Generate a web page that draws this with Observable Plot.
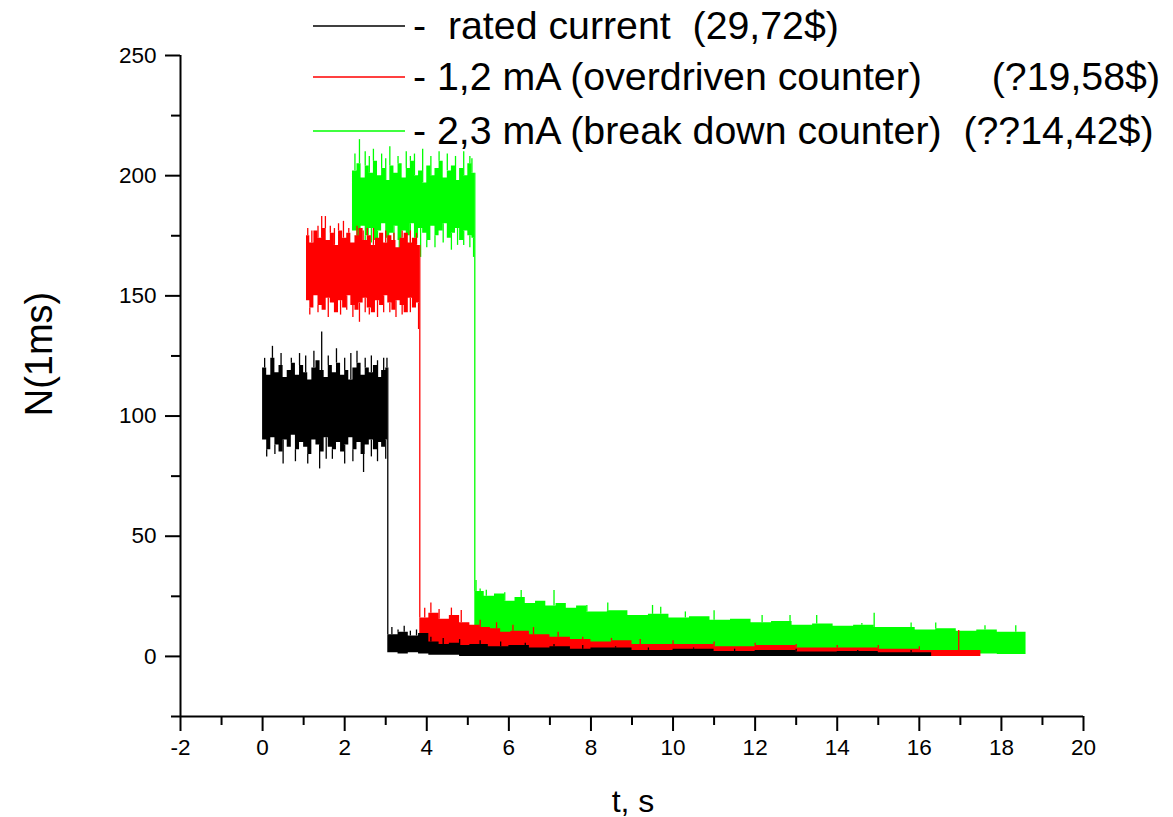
<!DOCTYPE html>
<html>
<head>
<meta charset="utf-8">
<script src="https://cdn.jsdelivr.net/npm/d3@7"></script>
<script src="https://cdn.jsdelivr.net/npm/@observablehq/plot@0.6"></script>
<style>
  html, body { margin: 0; padding: 0; background: #fff; }
  #chart { width: 1173px; height: 817px; }
</style>
</head>
<body>
<div id="chart"></div>
<script>
// ---- tick values ----
const xMajor = [-2, 0, 2, 4, 6, 8, 10, 12, 14, 16, 18, 20];
const xMinor = [-1, 1, 3, 5, 7, 9, 11, 13, 15, 17, 19];
const yMajor = [0, 50, 100, 150, 200, 250];
const yMinor = [-25, 25, 75, 125, 175, 225];

// ---- texts ----
const xTitle = "t, s";
const yTitle = "N(1ms)";
const legendLabels = [
  ["-  rated current  (29,72$)", ""],
  ["- 1,2 mA (overdriven counter)", "(?19,58$)"],
  ["- 2,3 mA (break down counter)  (??14,42$)", ""]
];
const seriesColors = ["#000000", "#ff0000", "#00ff00"];

// ---- black series (rated current): low/high envelope of the noisy trace ----
const blackT  = [0, 0.1, 0.2, 0.3, 0.4, 0.5, 0.6, 0.7, 0.8, 0.9, 1.0, 1.1, 1.2, 1.3, 1.4, 1.5, 1.6, 1.7, 1.8, 1.9, 2.0, 2.1, 2.2, 2.3, 2.4, 2.5, 2.6, 2.7, 2.8, 2.9, 3.0,
  3.05, 3.3, 3.55, 3.8, 4.05, 4.3, 4.55, 4.8, 5.05, 5.5, 6, 6.5, 7, 7.5, 8, 9, 10, 11, 12, 13, 14, 15, 16, 16.3];
const blackLo = [90, 86, 91, 88, 85, 90, 87, 92, 86, 89, 87, 84, 90, 88, 85, 91, 87, 86, 89, 85, 88, 91, 86, 89, 84, 88, 90, 86, 89, 87, 90,
  1.5, 1, 1.5, 1, 0.5, 0.5, 0.5, 0, 0, 0, 0, 0, 0, 0, 0, 0, 0, 0, 0, 0, 0, 0, 0, 0];
const blackHi = [120, 117, 124, 118, 121, 116, 119, 122, 117, 121, 118, 115, 120, 123, 119, 116, 121, 118, 122, 117, 119, 115, 120, 122, 117, 120, 118, 121, 116, 119, 120,
  9, 10, 8.5, 9.5, 6, 5, 5.5, 4.5, 5, 4, 4.5, 3.5, 4, 3, 3.5, 2.5, 3, 2, 2.5, 1.8, 2, 1.5, 1.5, 1.5];
const blackSpikeT = [0.05, 0.24, 0.45, 0.7, 0.9, 1.05, 1.25, 1.44, 1.6, 1.8, 2.0, 2.15, 2.3, 2.5, 2.65, 2.8, 2.95, 3.03,
  0.1, 0.3, 0.5, 0.8, 1.1, 1.39, 1.55, 1.7, 2.0, 2.2, 2.46, 2.65, 2.8, 3.0,
  3.15, 3.3, 3.45, 3.6, 3.75, 4.1, 4.4, 4.8, 5.3, 5.8, 6.4, 7.1, 7.8, 8.6, 9.4, 10.5, 11.5, 13, 14.5, 15.8];
const blackSpikeV = [124, 129, 126, 124, 126, 125, 127, 135, 125, 128, 124, 126, 127, 124, 125, 123, 124, 124,
  83, 84, 80, 81, 80, 78, 82, 82, 80, 81, 76.5, 83, 81, 82,
  12, 11, 12.5, 10.5, 11, 8, 7.5, 7, 6.5, 6, 5.5, 5, 4.5, 4, 3.5, 3.5, 3, 3, 2.5, 2.5];

// ---- red series (1,2 mA) ----
const redT  = [1.07, 1.15, 1.25, 1.35, 1.45, 1.55, 1.65, 1.75, 1.85, 1.95, 2.05, 2.15, 2.25, 2.35, 2.45, 2.55, 2.65, 2.75, 2.85, 2.95, 3.05, 3.15, 3.25, 3.35, 3.45, 3.55, 3.65, 3.75,
  3.83, 4.05, 4.3, 4.55, 4.8, 5.05, 5.3, 5.55, 5.8, 6.05, 6.5, 7, 7.5, 8, 8.5, 9, 10, 11, 12, 13, 14, 15, 16, 17, 17.5];
const redLo = [148, 145, 150, 146, 144, 149, 147, 143, 148, 145, 150, 146, 144, 147, 149, 145, 143, 148, 146, 150, 147, 144, 148, 146, 143, 149, 145, 147,
  5, 4, 3.5, 3, 2.5, 2.5, 2, 2, 1.5, 1.5, 1, 1, 0.5, 0.5, 0.5, 0, 0, 0, 0, 0, 0, 0, 0, 0, 0];
const redHi = [175, 172, 177, 174, 178, 173, 176, 171, 177, 174, 176, 172, 175, 178, 173, 175, 171, 174, 176, 172, 175, 173, 170, 174, 176, 172, 174, 171,
  16, 18, 15.5, 17, 14, 13, 12, 11.5, 10, 10.5, 9, 8, 7, 6, 6.5, 5, 5, 4, 4.5, 3.5, 3.5, 3, 2.5, 2.5, 2.5];
const redSpikeT = [1.1, 1.2, 1.35, 1.44, 1.53, 1.65, 1.75, 1.85, 1.97, 2.1, 2.3, 2.45, 2.55, 2.7, 2.85, 3.0, 3.2, 3.4, 3.6, 3.75,
  1.15, 1.35, 1.5, 1.6, 1.75, 1.9, 2.05, 2.2, 2.36, 2.5, 2.6, 2.8, 2.95, 3.1, 3.25, 3.4, 3.6, 3.8,
  3.95, 4.1, 4.3, 4.6, 4.84, 5.3, 5.7, 6.1, 6.6, 7.2, 7.8, 8.5, 9.2, 10, 11, 12, 13, 14, 15, 16, 16.96];
const redSpikeV = [178, 177, 179, 183, 183, 179, 178, 180, 181, 178, 179, 177, 178, 178, 176, 177, 176, 177, 177, 176,
  142, 143, 144, 141, 143, 142, 144, 141, 139, 143, 142, 141, 143, 143, 141, 142, 143, 136,
  20, 22.2, 19.5, 20.1, 19.1, 15, 14, 13, 12, 10, 8, 7.5, 7, 6.5, 6, 5.5, 5, 4.5, 4.5, 4, 10.8];

// ---- green series (2,3 mA) ----
const greenT  = [2.19, 2.3, 2.4, 2.5, 2.6, 2.7, 2.8, 2.9, 3.0, 3.1, 3.2, 3.3, 3.4, 3.5, 3.6, 3.7, 3.8, 3.9, 4.0, 4.1, 4.2, 4.3, 4.4, 4.5, 4.6, 4.7, 4.8, 4.9, 5.0, 5.1,
  5.17, 5.4, 5.65, 5.9, 6.15, 6.4, 6.65, 6.9, 7.15, 7.4, 7.65, 7.9, 8.4, 8.9, 9.4, 9.9, 10.4, 10.9, 11.4, 11.9, 12.4, 12.9, 13.4, 13.9, 14.4, 14.9, 15.4, 15.9, 16.4, 16.9, 17.4, 17.9, 18.4, 18.6];
const greenLo = [177, 174, 179, 175, 178, 173, 177, 180, 174, 176, 179, 173, 177, 175, 180, 174, 178, 176, 173, 179, 175, 177, 180, 174, 176, 178, 173, 177, 175, 174,
  11, 10, 9, 8.5, 8, 7.5, 7, 6.5, 6, 6, 5.5, 5, 4.5, 4, 4, 3.5, 3, 3, 2.5, 2.5, 2, 2, 2, 1.5, 1.5, 1.5, 1.5, 1, 1, 1, 1, 0.8, 0.8, 0.8];
const greenHi = [202, 205, 199, 204, 201, 206, 200, 203, 198, 204, 201, 205, 199, 203, 206, 200, 202, 197, 204, 200, 203, 206, 199, 202, 204, 198, 203, 200, 205, 201,
  27, 25, 26, 23, 24.5, 22, 23, 21, 22, 20, 21, 18.5, 19, 17, 17.5, 16, 16.5, 15, 15.5, 14, 14.5, 13, 13.5, 12.5, 13, 12, 12, 11, 11.5, 10.5, 11, 10, 10, 10];
const greenSpikeT = [2.25, 2.36, 2.5, 2.6, 2.7, 2.9, 3.0, 3.1, 3.3, 3.5, 3.6, 3.7, 3.9, 4.1, 4.3, 4.5, 4.7, 4.9, 5.05, 5.1,
  2.3, 2.5, 2.65, 2.8, 3.05, 3.2, 3.33, 3.5, 3.6, 3.85, 4.0, 4.2, 4.4, 4.6, 4.75, 4.9, 5.05, 5.14,
  5.2, 5.3, 5.45, 5.9, 6.3, 7.1, 7.9, 8.41, 9.5, 9.7, 10.3, 11.0, 12.17, 12.85, 13.5, 14.6, 14.9, 15.8, 16.4, 17.6, 18.35];
const greenSpikeV = [209, 215, 210, 208, 211, 209, 207, 212, 208, 210, 208, 209, 211, 208, 210, 209, 208, 210, 208, 207,
  171, 169, 172, 172, 170, 172, 161, 171, 171, 166, 170, 170, 172, 169, 171, 171, 170, 166,
  31.6, 28, 27.5, 26.5, 27.4, 27.4, 21.2, 22.2, 21.2, 20.5, 18.5, 19, 17, 17, 17, 13.7, 18, 13.9, 13.9, 12.8, 12.8];

// ---- build tables for the library ----
function envelope(T, LO, HI) { return T.map((t, i) => ({t, lo: LO[i], hi: HI[i]})); }
function sampleAt(env, t) {
  let k = 0;
  for (let j = 0; j < env.length; j++) if (env[j].t <= t) k = j;
  return env[k];
}
function spikes(env, T, V) {
  return T.map((t, i) => {
    const e = sampleAt(env, t);
    const v = V[i];
    return {t, v, base: v > (e.lo + e.hi) / 2 ? e.hi : e.lo};
  });
}
// the step where the plateau falls to the tail
function drop(env) {
  for (let j = 1; j < env.length; j++) {
    if (env[j].hi < env[j - 1].lo * 0.5) return [{t: env[j].t, y1: env[j].hi, y2: env[j - 1].hi}];
  }
  return [];
}
const series = [
  {color: seriesColors[2], env: envelope(greenT, greenLo, greenHi), sT: greenSpikeT, sV: greenSpikeV},
  {color: seriesColors[1], env: envelope(redT, redLo, redHi), sT: redSpikeT, sV: redSpikeV},
  {color: seriesColors[0], env: envelope(blackT, blackLo, blackHi), sT: blackSpikeT, sV: blackSpikeV}
];

const FONT = "'Liberation Sans', Arial, Helvetica, sans-serif";
const marks = [];
for (const s of series) {
  marks.push(Plot.areaY(s.env, {x: "t", y1: "lo", y2: "hi", fill: s.color, curve: "step-after"}));
  marks.push(Plot.ruleX(spikes(s.env, s.sT, s.sV), {x: "t", y1: "base", y2: "v", stroke: s.color, strokeWidth: 1.3}));
  marks.push(Plot.ruleX(drop(s.env), {x: "t", y1: "y1", y2: "y2", stroke: s.color, strokeWidth: 1.3}));
}
marks.push(
  Plot.axisX(xMajor, {tickSize: 15, tickPadding: 8, fontSize: 22.5, label: null, strokeWidth: 2, tickFormat: d => String(d)}),
  Plot.axisX(xMinor, {tickSize: 9, tickFormat: () => "", label: null, strokeWidth: 2}),
  Plot.axisY(yMajor, {tickSize: 15, tickPadding: 9, fontSize: 22.5, label: null, strokeWidth: 2, tickFormat: d => String(d)}),
  Plot.axisY(yMinor, {tickSize: 9, tickFormat: () => "", label: null, strokeWidth: 2}),
  Plot.ruleX([-2], {y1: -25, y2: 250, stroke: "black", strokeWidth: 2}),
  Plot.ruleY([-25], {x1: -2, x2: 20, stroke: "black", strokeWidth: 2})
);

const svg = Plot.plot({
  width: 1173,
  height: 817,
  marginLeft: 180,
  marginRight: 90,
  marginTop: 55,
  marginBottom: 101,
  x: {domain: [-2, 20]},
  y: {domain: [-25, 250]},
  style: {fontFamily: FONT, fontSize: "22.5px", color: "black", background: "white", overflow: "visible"},
  marks
});

const root = d3.select(svg);
// ---- axis titles ----
root.append("text")
  .attr("x", 633).attr("y", 812)
  .attr("text-anchor", "middle")
  .attr("font-family", FONT).attr("font-size", 32).attr("fill", "black")
  .text(xTitle);
root.append("text")
  .attr("transform", "translate(52,354) rotate(-90)")
  .attr("text-anchor", "middle")
  .attr("font-family", FONT).attr("font-size", 38).attr("fill", "black")
  .text(yTitle);

// ---- legend (Origin-style, inside the figure at the top) ----
const lg = root.append("g")
  .attr("font-family", FONT)
  .attr("font-size", 39.3)
  .attr("fill", "black")
  .attr("text-anchor", "start");
const rowsY = [26, 77, 131];
legendLabels.forEach((lab, i) => {
  lg.append("line")
    .attr("x1", 313).attr("x2", 405)
    .attr("y1", rowsY[i]).attr("y2", rowsY[i])
    .attr("stroke", seriesColors[i]).attr("stroke-width", 1.5);
  lg.append("text")
    .attr("x", 413).attr("y", rowsY[i] + 13)
    .attr("text-anchor", "start")
    .attr("xml:space", "preserve")
    .style("white-space", "pre")
    .text(lab[0]);
  if (lab[1]) {
    lg.append("text")
      .attr("x", 1160).attr("y", rowsY[i] + 13)
      .attr("text-anchor", "end")
      .text(lab[1]);
  }
});

document.getElementById("chart").appendChild(svg);
</script>
</body>
</html>
